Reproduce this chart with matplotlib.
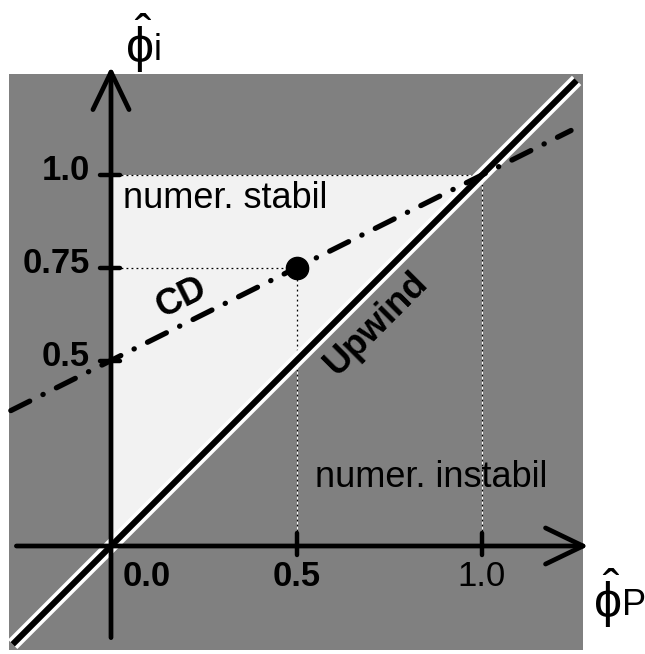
import matplotlib.pyplot as plt
import matplotlib.patheffects as pe
from matplotlib.patches import Rectangle, Polygon, FancyArrowPatch

plt.rcParams['font.family'] = ['Liberation Sans', 'DejaVu Sans']
plt.rcParams['mathtext.fontset'] = 'custom'
plt.rcParams['mathtext.rm'] = 'Liberation Sans'
plt.rcParams['mathtext.it'] = 'Liberation Sans'

# Scheme lines (normalised variables)
upwind_x = [-0.265, 1.255]
upwind_y = [-0.265, 1.255]
cd_x = [-0.27, 1.24]
cd_y = [0.365, 1.12]

# CD value at phi_P = 0.5
point_x = 0.5
point_y = 0.75

# stable region corners
stable_x = [0.0, 0.0, 1.0]
stable_y = [0.0, 1.0, 1.0]

x_ticks = [0.5, 1.0]
x_tick_labels = ['0.0', '0.5', '1.0']
x_label_pos = [0.0, 0.5, 1.0]
y_ticks = [0.5, 0.75, 1.0]
y_tick_labels = ['0.5', '0.75', '1.0']

unit = 371.0
fig = plt.figure(figsize=(6.45, 6.54), dpi=100)
ax = fig.add_axes([0, 0, 1, 1])
ax.set_xlim(-111 / unit, (645 - 111) / unit)
ax.set_ylim((546 - 654) / unit, 546 / unit)
ax.axis('off')

# background square and stable triangle
ax.add_patch(Rectangle((-0.275, -0.28), 1.548, 1.553, facecolor='#808080',
                       edgecolor='none', zorder=0))
ax.add_patch(Polygon(list(zip(stable_x, stable_y)), closed=True,
                     facecolor='#f2f2f2', edgecolor='none', zorder=1))

# dotted guide lines
guides = [([0, 1], [1, 1]), ([0, point_x], [point_y, point_y]),
          ([point_x, point_x], [0, point_y]), ([1, 1], [0, 1])]
for gx, gy in guides:
    ax.plot(gx, gy, color='white', lw=0.8, zorder=2)
    ax.plot(gx, gy, color='black', lw=0.9, ls=(0, (1.5, 2.5)), zorder=2)

# upwind line with white outline
ax.plot(upwind_x, upwind_y, color='black', lw=4.4, solid_capstyle='butt', zorder=4,
        path_effects=[pe.Stroke(linewidth=9.5, foreground='white'), pe.Normal()])

# central differencing line
ax.plot(cd_x, cd_y, color='black', lw=3.8, dash_capstyle='round',
        ls=(0, (4, 2.8, 0.05, 2.8)), zorder=5)
ax.plot(point_x, point_y, 'o', color='black', markersize=16, zorder=6)

# axes arrows
arrow_kw = dict(arrowstyle='->,head_length=1.35,head_width=0.65', color='black',
                lw=3.4, mutation_scale=20, zorder=7, shrinkA=0, shrinkB=0)
ax.add_patch(FancyArrowPatch((-0.255, 0), (1.287, 0), **arrow_kw))
ax.add_patch(FancyArrowPatch((0, -0.247), (0, 1.292), **arrow_kw))

# tick marks
for t in y_ticks:
    ax.plot([-0.03, 0.025], [t, t], color='black', lw=3.2, solid_capstyle='round', zorder=7)
for t in x_ticks:
    ax.plot([t, t], [-0.024, 0.035], color='black', lw=3.2, solid_capstyle='round', zorder=7)

# tick labels
for t, lab in zip(y_ticks, y_tick_labels):
    ax.text(-0.057, t + 0.012, lab, fontsize=25, fontweight='bold',
            ha='right', va='center', zorder=8)
ax.text(0.03, -0.083, x_tick_labels[0], fontsize=25, fontweight='bold',
        ha='left', va='center', zorder=8)
ax.text(x_label_pos[1], -0.083, x_tick_labels[1], fontsize=25, fontweight='bold',
        ha='center', va='center', zorder=8)
ax.text(x_label_pos[2], -0.083, x_tick_labels[2], fontsize=25,
        ha='center', va='center', zorder=8)

# region and line labels
ax.text(0.032, 0.911, 'numer. stabil', fontsize=26, ha='left', va='baseline', zorder=8)
ax.text(0.55, 0.159, 'numer. instabil', fontsize=26, ha='left', va='baseline', zorder=8)
ax.text(0.19, 0.668, 'CD', fontsize=26, fontweight='bold', rotation=26.6,
        rotation_mode='anchor', ha='center', va='center', zorder=8)
ax.text(0.715, 0.60, 'Upwind', fontsize=26, fontweight='bold', rotation=45,
        rotation_mode='anchor', ha='center', va='center', zorder=8)

# axis names
ax.text(0.075, 1.355, r'$\hat{\phi}$', fontsize=36, ha='center', va='center', zorder=8)
ax.text(0.115, 1.335, 'i', fontsize=26, ha='left', va='center', zorder=8)
ax.text(1.337, -0.14, r'$\hat{\phi}$', fontsize=36, ha='center', va='center', zorder=8)
ax.text(1.377, -0.16, 'P', fontsize=26, ha='left', va='center', zorder=8)

fig.savefig('out.png', dpi=100)
